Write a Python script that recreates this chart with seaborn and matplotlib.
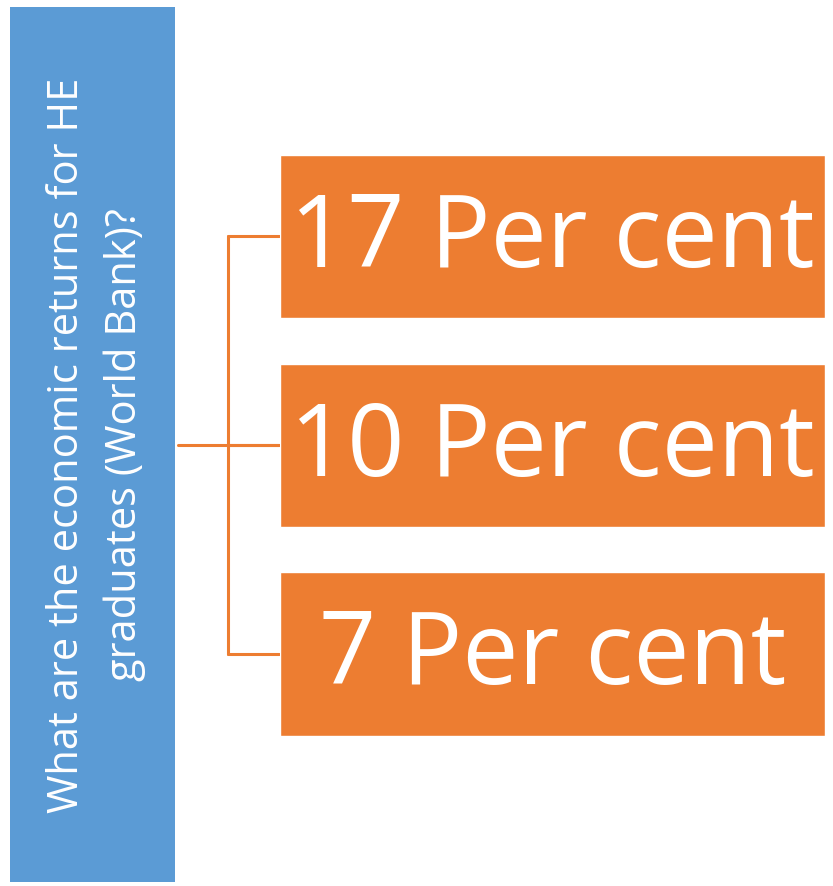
import matplotlib
matplotlib.use("Agg")
import matplotlib.pyplot as plt
import seaborn as sns
import pandas as pd
from matplotlib.patches import Rectangle
from matplotlib.lines import Line2D

sns.set_theme(style="white")
plt.rcParams['font.family'] = ['Open Sans', 'DejaVu Sans']

question = "What are the economic returns for HE\ngraduates (World Bank)?"
returns = [17, 10, 7]
labels = [f"{v} Per cent" for v in returns]
box_len = [1, 1, 1]

BLUE = "#5B9BD5"
ORANGE = "#ED7D31"

W, H = 833, 886
fig = plt.figure(figsize=(W / 100, H / 100), dpi=100)

def fx(px):
    return px / W

def fy(py):
    return 1 - py / H

# background overlay axes for blue box and connectors (pixel coords)
bg = fig.add_axes([0, 0, 1, 1])
bg.set_xlim(0, W)
bg.set_ylim(H, 0)
bg.axis('off')
bg.add_patch(Rectangle((10, 7), 165, 875, facecolor=BLUE, edgecolor='none'))
bg.text(96, 445, question, rotation=90, ha='center', va='center',
        color='white', fontsize=30, linespacing=1.45, multialignment='center')

lc = ORANGE
lw = 2.2
bg.add_line(Line2D([178, 279], [445, 445], color=lc, lw=lw))
bg.add_line(Line2D([228, 228], [236, 654], color=lc, lw=lw))
for yy in [236, 445, 654]:
    bg.add_line(Line2D([228, 279], [yy, yy], color=lc, lw=lw))

# orange boxes via seaborn barplot
df = pd.DataFrame({"label": labels, "len": box_len})
ax = fig.add_axes([fx(280), fy(735.5), fx(825) - fx(280), (735.5 - 155) / H])
sns.barplot(data=df, y="label", x="len", orient="h", color=ORANGE,
            saturation=1, width=0.784, ax=ax)
ax.set_xlim(0, 1)
ax.set_ylim(2.392, -0.392)
ax.axis('off')
for i, lab in enumerate(labels):
    ax.text(0.5, i + 0.02, lab, ha='center', va='center', color='white',
            fontsize=72)

fig.savefig("out.png", dpi=100)
